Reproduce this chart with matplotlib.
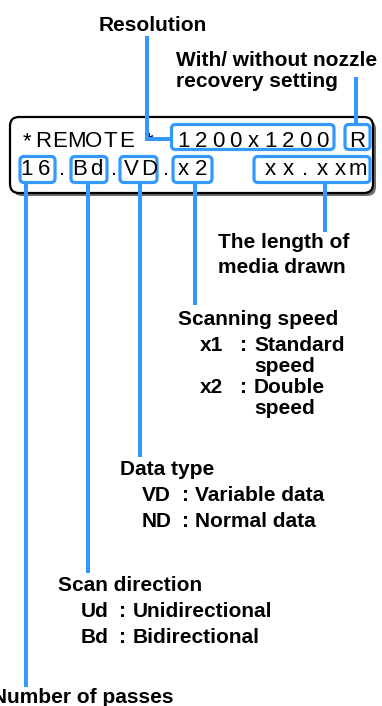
import matplotlib

matplotlib.use("Agg")
import matplotlib.pyplot as plt
from matplotlib.patches import FancyBboxPatch

# display contents (LCD style, 20 columns)
row1_remote = "REMOTE"
row1_stars = ["*", "*"]
row1_res = "1200x1200"
row1_flag = "R"
row2_text = "16.Bd.VD.x2   xx.xxm"

# callout labels
resolution_label = "Resolution"
nozzle_label = ["With/ without nozzle", "recovery setting"]
length_label = ["The length of", "media drawn"]
speed_title = "Scanning speed"
speed_codes = ["x1", "x2"]
speed_desc = [["Standard", "speed"], ["Double", "speed"]]
type_title = "Data type"
type_codes = ["VD", "ND"]
type_desc = ["Variable data", "Normal data"]
scan_title = "Scan direction"
scan_codes = ["Ud", "Bd"]
scan_desc = ["Unidirectional", "Bidirectional"]
passes_label = "Number of passes"

BLUE = "#3399ff"
W, H = 382, 706
FONT = "Liberation Sans"


def col_x(i):
    return 27 + 17.4 * i


def rbox(ax, x0, x1, y0, y1, ec, lw, fc="none", r=4, z=3):
    ax.add_patch(FancyBboxPatch((x0, y0), x1 - x0, y1 - y0,
                                boxstyle=f"round,pad=0,rounding_size={r}",
                                ec=ec, fc=fc, lw=lw, zorder=z))


def label(ax, x, y, s, ha="left"):
    ax.text(x, y, s, ha=ha, va="baseline", fontsize=15, fontweight="bold",
            family=FONT, color="black", zorder=5)


def main() -> None:
    fig = plt.figure(figsize=(W / 100, H / 100), dpi=100)
    ax = fig.add_axes([0, 0, 1, 1])
    ax.set_xlim(0, W)
    ax.set_ylim(H, 0)
    ax.axis("off")

    # outer display frame with shadow
    rbox(ax, 13, 376, 120, 196, ec="none", lw=0, fc="#6e6e6e", r=9, z=1)
    rbox(ax, 10, 373, 117, 193, ec="black", lw=1.6, fc="white", r=9, z=2)

    # row 1 characters
    lcd = dict(ha="center", va="baseline", fontsize=16, family=FONT, color="black", zorder=4)
    ax.text(col_x(0), 147, row1_stars[0], **lcd)
    for i, ch in enumerate(row1_remote):
        ax.text(43 + 16.8 * i, 147, ch, **lcd)
    ax.text(col_x(7), 147, row1_stars[1], **lcd)
    for i, ch in enumerate(row1_res):
        ax.text(col_x(9 + i), 147, ch, **lcd)
    ax.text(col_x(19), 147, row1_flag, **lcd)

    # row 2 characters
    for i, ch in enumerate(row2_text):
        if ch != " ":
            ax.text(col_x(i), 175, ch, **lcd)

    # blue field boxes
    lw_box = 2.3
    rbox(ax, 171.5, 334, 124.5, 149.5, BLUE, lw_box)
    rbox(ax, 345, 370, 124.5, 149.5, BLUE, lw_box)
    for x0, x1 in [(20, 55), (71, 107), (120, 157), (173, 212), (254, 370)]:
        rbox(ax, x0, x1, 156.5, 182.5, BLUE, lw_box)

    # leader lines
    lw_line = 2.9
    line = dict(color=BLUE, lw=lw_line, solid_capstyle="butt", solid_joinstyle="miter", zorder=4)
    ax.plot([147, 147, 171.5], [36, 139, 139], **line)
    ax.plot([356, 356], [77, 124.5], **line)
    for x, yb in [(26, 687), (88, 573), (140, 457), (195, 305), (325, 232)]:
        ax.plot([x, x], [182.5, yb], **line)

    # labels
    label(ax, 99, 31, resolution_label)
    label(ax, 176, 66, nozzle_label[0])
    label(ax, 176, 87, nozzle_label[1])
    label(ax, 218, 248, length_label[0])
    label(ax, 218, 273, length_label[1])

    label(ax, 178, 325, speed_title)
    for code, desc, y in zip(speed_codes, speed_desc, [351, 393]):
        label(ax, 200, y, code)
        label(ax, 240, y, ":")
        label(ax, 254, y, desc[0])
        label(ax, 254, y + 21, desc[1])

    label(ax, 120, 475, type_title)
    for code, desc, y in zip(type_codes, type_desc, [501, 527]):
        label(ax, 142, y, code)
        label(ax, 182, y, ":")
        label(ax, 195, y, desc)

    label(ax, 58, 591, scan_title)
    for code, desc, y in zip(scan_codes, scan_desc, [617, 643]):
        label(ax, 81, y, code)
        label(ax, 119, y, ":")
        label(ax, 133, y, desc)

    label(ax, 174, 703, passes_label, ha="right")

    fig.savefig("out.png", dpi=100)
    plt.close(fig)


if __name__ == "__main__":
    main()
